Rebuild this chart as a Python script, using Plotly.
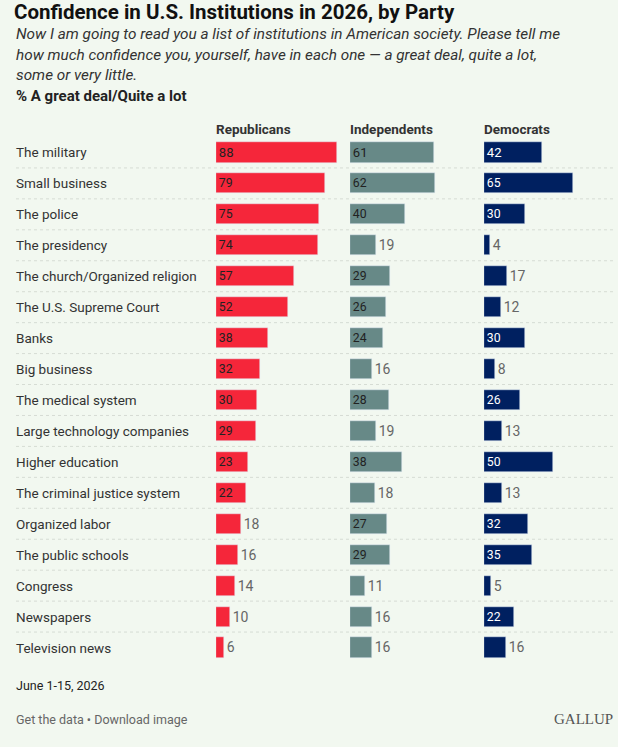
import plotly.graph_objects as go

institutions = ["The military", "Small business", "The police", "The presidency",
                "The church/Organized religion", "The U.S. Supreme Court", "Banks",
                "Big business", "The medical system", "Large technology companies",
                "Higher education", "The criminal justice system", "Organized labor",
                "The public schools", "Congress", "Newspapers", "Television news"]
republicans = [88, 79, 75, 74, 57, 52, 38, 32, 30, 29, 23, 22, 18, 16, 14, 10, 6]
independents = [61, 62, 40, 19, 29, 26, 24, 16, 28, 19, 38, 18, 27, 29, 11, 16, 16]
democrats = [42, 65, 30, 4, 17, 12, 30, 8, 26, 13, 50, 13, 32, 35, 5, 22, 16]
groups = ["Republicans", "Independents", "Democrats"]

W, H = 618, 747
TOP, BOT = 136.5, 663.5  # plot area in pixels
FONT = "Roboto"
colors = ["#f5263a", "#678987", "#002060"]
inside_text = ["#222222", "#222222", "#ffffff"]
left_px = [216, 350, 484]
panel_w = 130
scale = 1.375  # px per percentage point

def py(y):
    # pixel row -> paper coordinate of plot area
    return (BOT - y) / (BOT - TOP)

fig = go.Figure()
rows = list(range(len(institutions)))
for k, vals in enumerate([republicans, independents, democrats]):
    pos = ["inside" if v >= 20 else "outside" for v in vals]
    tcol = [inside_text[k] if v >= 20 else "#666666" for v in vals]
    fig.add_trace(go.Bar(
        x=vals, y=rows, orientation="h", marker_color=colors[k], width=0.65,
        text=vals, textposition=pos, insidetextanchor="start", textangle=0,
        textfont=dict(family=FONT, size=14, color=tcol), cliponaxis=False,
        xaxis="x" if k == 0 else f"x{k+1}", showlegend=False, hoverinfo="skip"))

layout = dict(
    width=W, height=H, paper_bgcolor="#f2f8f0", plot_bgcolor="#f2f8f0",
    margin=dict(l=0, r=0, t=TOP, b=H - BOT), bargap=0,
    yaxis=dict(range=[16.5, -0.5], visible=False),
    font=dict(family=FONT, color="#333333"),
)
for k in range(3):
    name = "xaxis" if k == 0 else f"xaxis{k+1}"
    layout[name] = dict(domain=[left_px[k] / W, (left_px[k] + panel_w) / W],
                        range=[0, panel_w / scale], visible=False, anchor="y")
fig.update_layout(**layout)

for i, lab in enumerate(institutions):
    fig.add_annotation(x=14 / W, xref="paper", y=i, yref="y", text=lab, showarrow=False,
                       xanchor="left", font=dict(size=13.5, color="#333333"))
for i in range(len(institutions) - 1):
    fig.add_shape(type="line", xref="paper", yref="y", x0=16 / W, x1=614 / W,
                  y0=i + 0.5, y1=i + 0.5, line=dict(color="#d6dcd4", width=1, dash="dot"))
for k, g in enumerate(groups):
    fig.add_annotation(x=(left_px[k] - 2) / W, xref="paper", y=py(128), yref="paper",
                       yanchor="middle", xanchor="left", text=f"<b>{g}</b>", showarrow=False,
                       font=dict(size=13.5, color="#333333"))

def ptext(txt, y, size, color="#333333", xanchor="left", x=14, family=FONT):
    fig.add_annotation(x=x / W, xref="paper", y=py(y), yref="paper", text=txt,
                       showarrow=False, xanchor=xanchor, yanchor="middle", align="left",
                       font=dict(size=size, color=color, family=family))

ptext("<b>Confidence in U.S. Institutions in 2026, by Party</b>", 11, 20.5, "#111111", x=12)
ptext("<i>Now I am going to read you a list of institutions in American society. Please tell me</i>", 33, 15.3)
ptext("<i>how much confidence you, yourself, have in each one — a great deal, quite a lot,</i>", 54, 15.3)
ptext("<i>some or very little.</i>", 74, 15.3)
ptext("<b>% A great deal/Quite a lot</b>", 95, 15, "#222222")
ptext("June 1-15, 2026", 686, 12.5, "#222222")
ptext("Get the data • Download image", 720, 12.5, "#666666")
ptext("GALLUP", 720, 15, "#555555", xanchor="right", x=615, family="Liberation Serif")

fig.write_html("out.html", post_script="document.body.style.margin='0';",
               config={"displayModeBar": False})
